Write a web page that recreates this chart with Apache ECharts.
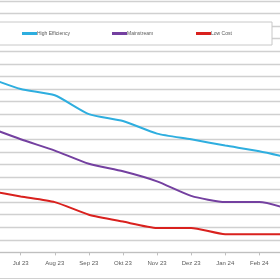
<!DOCTYPE html>
<html><head><meta charset="utf-8">
<script src="https://cdn.jsdelivr.net/npm/echarts@6/dist/echarts.min.js"></script>
<style>html,body{margin:0;padding:0;background:#fff}#c{width:280px;height:280px}</style>
</head><body><div id="c"></div>
<script>
var categories = ["Jun 23","Jul 23","Aug 23","Sep 23","Okt 23","Nov 23","Dez 23","Jan 24","Feb 24","Mär 24"];
var highEfficiency = [27.9, 26.0, 25.0, 22.0, 20.9, 18.9, 18.0, 17.0, 16.1, 14.9];
var mainstream = [20.0, 18.0, 16.2, 14.1, 12.9, 11.3, 9.0, 8.0, 8.0, 6.7];
var lowCost = [9.9, 8.9, 8.0, 6.0, 4.9, 3.9, 3.9, 2.9, 2.9, 2.9];
var yMin = 0, yMax = 40, yStep = 2;

var chart = echarts.init(document.getElementById('c'), null, {renderer: 'canvas'});
var font = 'Liberation Sans';
function lg(name, left) {
  return {
    data: [name], left: left, top: 31, padding: 0, z: 30,
    icon: 'rect', itemWidth: 15, itemHeight: 3,
    textStyle: {fontFamily: font, fontSize: 5, color: '#595959', padding: [0, 0, 0, -5]},
    selectedMode: false
  };
}
chart.setOption({
  animation: false,
  backgroundColor: '#ffffff',
  grid: {left: -13.4, right: -13.4, top: 1, bottom: 27.6, outerBoundsMode: 'none', containLabel: false},
  legend: [lg('High Efficiency', 22), lg('Mainstream', 112), lg('Low Cost', 196)],
  graphic: [
    {type: 'rect', z: 20, shape: {x: -5, y: 22, width: 277, height: 23},
     style: {fill: '#ffffff', stroke: '#c8c8c8', lineWidth: 1}},
    {type: 'line', z: 20, shape: {x1: 0, y1: 278.5, x2: 280, y2: 278.5},
     style: {stroke: '#d0d0d0', lineWidth: 1}}
  ],
  xAxis: {
    type: 'category', data: categories, boundaryGap: false,
    axisLine: {lineStyle: {color: '#bfbfbf', width: 1}},
    axisTick: {show: true, length: 3, lineStyle: {color: '#bfbfbf'}},
    axisLabel: {interval: 0, fontFamily: font, fontSize: 6, color: '#595959', margin: 8}
  },
  yAxis: {
    type: 'value', min: yMin, max: yMax, interval: yStep,
    axisLine: {show: false}, axisTick: {show: false}, axisLabel: {show: false},
    splitLine: {lineStyle: {color: '#d0d0d0', width: 1.3}}
  },
  series: [
    {name: 'High Efficiency', type: 'line', data: highEfficiency, smooth: 0.2, symbol: 'none',
     lineStyle: {color: '#2EAEDF', width: 2}, itemStyle: {color: '#2EAEDF'}},
    {name: 'Mainstream', type: 'line', data: mainstream, smooth: 0.2, symbol: 'none',
     lineStyle: {color: '#7440A0', width: 2}, itemStyle: {color: '#7440A0'}},
    {name: 'Low Cost', type: 'line', data: lowCost, smooth: 0.2, symbol: 'none',
     lineStyle: {color: '#D9211E', width: 2}, itemStyle: {color: '#D9211E'}}
  ]
});
</script></body></html>
